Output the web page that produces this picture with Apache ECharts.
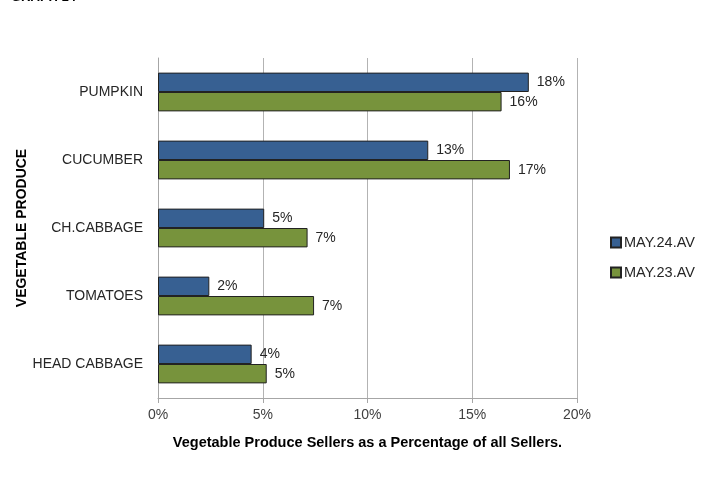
<!DOCTYPE html>
<html>
<head>
<meta charset="utf-8">
<script src="https://cdn.jsdelivr.net/npm/echarts@6/dist/echarts.min.js"></script>
<style>
html,body{margin:0;padding:0;background:#fff;}
#c{width:702px;height:498px;}
</style>
</head>
<body>
<div id="c"></div>
<script>
// categories bottom -> top
var categories = ['HEAD CABBAGE', 'TOMATOES', 'CH.CABBAGE', 'CUCUMBER', 'PUMPKIN'];
var may24 = [4.47, 2.45, 5.07, 12.9, 17.7];
var may23 = [5.19, 7.45, 7.14, 16.8, 16.4];
var seriesNames = ['MAY.24.AV', 'MAY.23.AV'];
var xTicks = [0, 5, 10, 15, 20];

var font = 'Liberation Sans';
var chart = echarts.init(document.getElementById('c'), null, {renderer: 'canvas'});
var labelCfg = {
  show: true, position: 'right', distance: 8,
  fontFamily: font, fontSize: 14, color: '#262626',
  formatter: function (p) { return Math.round(p.value) + '%'; }
};
chart.setOption({
  animation: false,
  backgroundColor: '#fff',
  textStyle: {fontFamily: font},
  graphic: [{
    type: 'text', left: 11, top: -9,
    style: {text: 'GRAPH 14', font: 'bold 13px ' + font, fill: '#000'}
  }],
  grid: {left: 158, right: 125, top: 58, bottom: 100, containLabel: false},
  legend: {
    orient: 'vertical', left: 605, top: 230, itemGap: 15,
    itemWidth: 10, itemHeight: 10, icon: 'rect',
    data: seriesNames,
    textStyle: {fontFamily: font, fontSize: 14.5, color: '#262626', padding: [0, 0, 0, -2]}
  },
  xAxis: {
    type: 'value', min: xTicks[0], max: xTicks[xTicks.length - 1], interval: 5,
    name: 'Vegetable Produce Sellers as a Percentage of all Sellers.',
    nameLocation: 'middle', nameGap: 37, nameMoveOverlap: false,
    nameTextStyle: {fontFamily: font, fontSize: 14.5, fontWeight: 'bold', color: '#000'},
    axisLine: {show: true, lineStyle: {color: '#a6a6a6'}},
    axisTick: {show: true, length: 5, lineStyle: {color: '#a6a6a6'}},
    axisLabel: {fontFamily: font, fontSize: 14, color: '#404040', margin: 10,
      formatter: function (v) { return v + '%'; }},
    splitLine: {show: true, lineStyle: {color: '#b3b3b3'}}
  },
  yAxis: {
    type: 'category', data: categories,
    name: 'VEGETABLE PRODUCE', nameLocation: 'middle', nameGap: 129, nameRotate: 90,
    nameMoveOverlap: false,
    nameTextStyle: {fontFamily: font, fontSize: 14, fontWeight: 'bold', color: '#000'},
    axisLine: {show: true, lineStyle: {color: '#a6a6a6'}},
    axisTick: {show: false},
    axisLabel: {fontFamily: font, fontSize: 14, color: '#262626', margin: 15}
  },
  series: [
    {
      name: seriesNames[0], type: 'bar', data: may24,
      barGap: '0%', barCategoryGap: '43%',
      itemStyle: {color: '#376092', borderColor: '#222', borderWidth: 1},
      label: labelCfg
    },
    {
      name: seriesNames[1], type: 'bar', data: may23,
      barGap: '0%', barCategoryGap: '43%',
      itemStyle: {color: '#77933c', borderColor: '#222', borderWidth: 1},
      label: labelCfg
    }
  ]
});
</script>
</body>
</html>
